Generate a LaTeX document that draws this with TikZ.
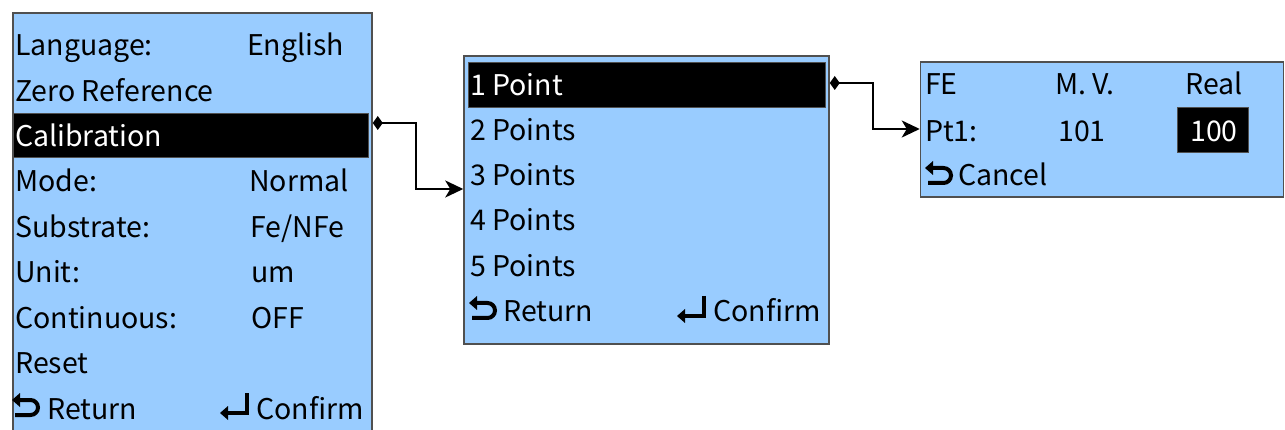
\documentclass[tikz,border=0pt]{standalone}
\usepackage{fontspec}
\setmainfont{Noto Sans CJK SC}
\usetikzlibrary{arrows.meta}
\definecolor{panel}{RGB}{153,204,255}
\definecolor{edge}{RGB}{80,80,80}
\tikzset{
  box/.style={draw=edge, line width=1.5pt, fill=panel, rectangle, inner sep=0pt},
  bar/.style={fill=black, draw=edge, line width=0.8pt, rectangle, inner sep=0pt},
  txt/.style={anchor=base west, inner sep=0pt, text=black, font=\fontsize{28.5}{34}\selectfont},
  wtxt/.style={txt, text=white},
  conn/.style={line width=2.3pt, {Diamond[length=10pt,width=14pt]}-{Stealth[length=18pt,width=17pt,inset=5pt]}},
  reticon/.pic={
    \draw[line width=4pt] (3,-4) -- (18.5,-4) arc[start angle=90, end angle=-90, radius=7.5] -- (6,-19);
    \fill (0,-19) -- (8,-26) -- (8,-12) -- cycle;
  },
  enticon/.pic={
    \draw[line width=3.8pt] (27,-26) -- (27,-6) -- (6,-6);
    \fill (0,-6) -- (8,-13) -- (8,1) -- cycle;
  }
}
\begin{document}
\begin{tikzpicture}[x=1pt,y=-1pt]
\useasboundingbox (0,0) rectangle (1285,430);
\clip (0,0) rectangle (1285,430);
% panel 1
\node[box, minimum width=359pt, minimum height=432pt] (b1) at (192.5,229) {};
\node[bar, minimum width=355pt, minimum height=44pt] (cal) at (191,135) {};
\node[txt] (l1) at (15,56) {Language:};
\node[txt] (r1) at (247,56) {English};
\node[txt] (l2) at (15,102) {Zero Reference};
\node[wtxt] (l3) at (15,147) {Calibration};
\node[txt] (l4) at (15,192) {Mode:};
\node[txt] (r4) at (249,192) {Normal};
\node[txt] (l5) at (15,238) {Substrate:};
\node[txt] (r5) at (250,238) {Fe/NFe};
\node[txt] (l6) at (15,283) {Unit:};
\node[txt] (r6) at (251,283) {um};
\node[txt] (l7) at (15,328) {Continuous:};
\node[txt] (r7) at (251,328) {OFF};
\node[txt] (l8) at (15,373) {Reset};
\pic at (12,419) {reticon};
\node[txt] (l9) at (47,419) {Return};
\pic at (220,419) {enticon};
\node[txt] (r9) at (256,419) {Confirm};
% panel 2
\node[box, minimum width=365pt, minimum height=288pt] (b2) at (646.5,200) {};
\node[bar, minimum width=357pt, minimum height=45pt] (p1) at (646.5,84.5) {};
\node[wtxt] (m1) at (470,96) {1 Point};
\node[txt] (m2) at (470,141) {2 Points};
\node[txt] (m3) at (470,186) {3 Points};
\node[txt] (m4) at (470,231) {4 Points};
\node[txt] (m5) at (470,277) {5 Points};
\pic at (469,322) {reticon};
\node[txt] (m6) at (503,322) {Return};
\pic at (677,322) {enticon};
\node[txt] (m7) at (713,322) {Confirm};
% panel 3
\node[box, minimum width=363pt, minimum height=135pt] (b3) at (1102,129.5) {};
\node[bar, minimum width=71pt, minimum height=45pt] (v) at (1212.5,129.5) {};
\node[txt] (h1) at (925,95) {FE};
\node[txt] (h2) at (1055,95) {M. V.};
\node[txt] (h3) at (1185,95) {Real};
\node[txt] (q1) at (925,142) {Pt1:};
\node[txt] (q2) at (1058,142) {101};
\node[wtxt] (q3) at (1190,142) {100};
\pic at (925,187) {reticon};
\node[txt] (q4) at (958,186) {Cancel};
% connectors
\coordinate (s1) at (b1.east |- 0,123);
\coordinate (t1) at (b2.west |- 0,189);
\draw[conn] (s1) -- (416,123) |- (t1);
\coordinate (s2) at (b2.east |- 0,83);
\coordinate (t2) at (b3.west |- 0,129);
\draw[conn] (s2) -- (873,83) |- (t2);
\end{tikzpicture}
\end{document}
